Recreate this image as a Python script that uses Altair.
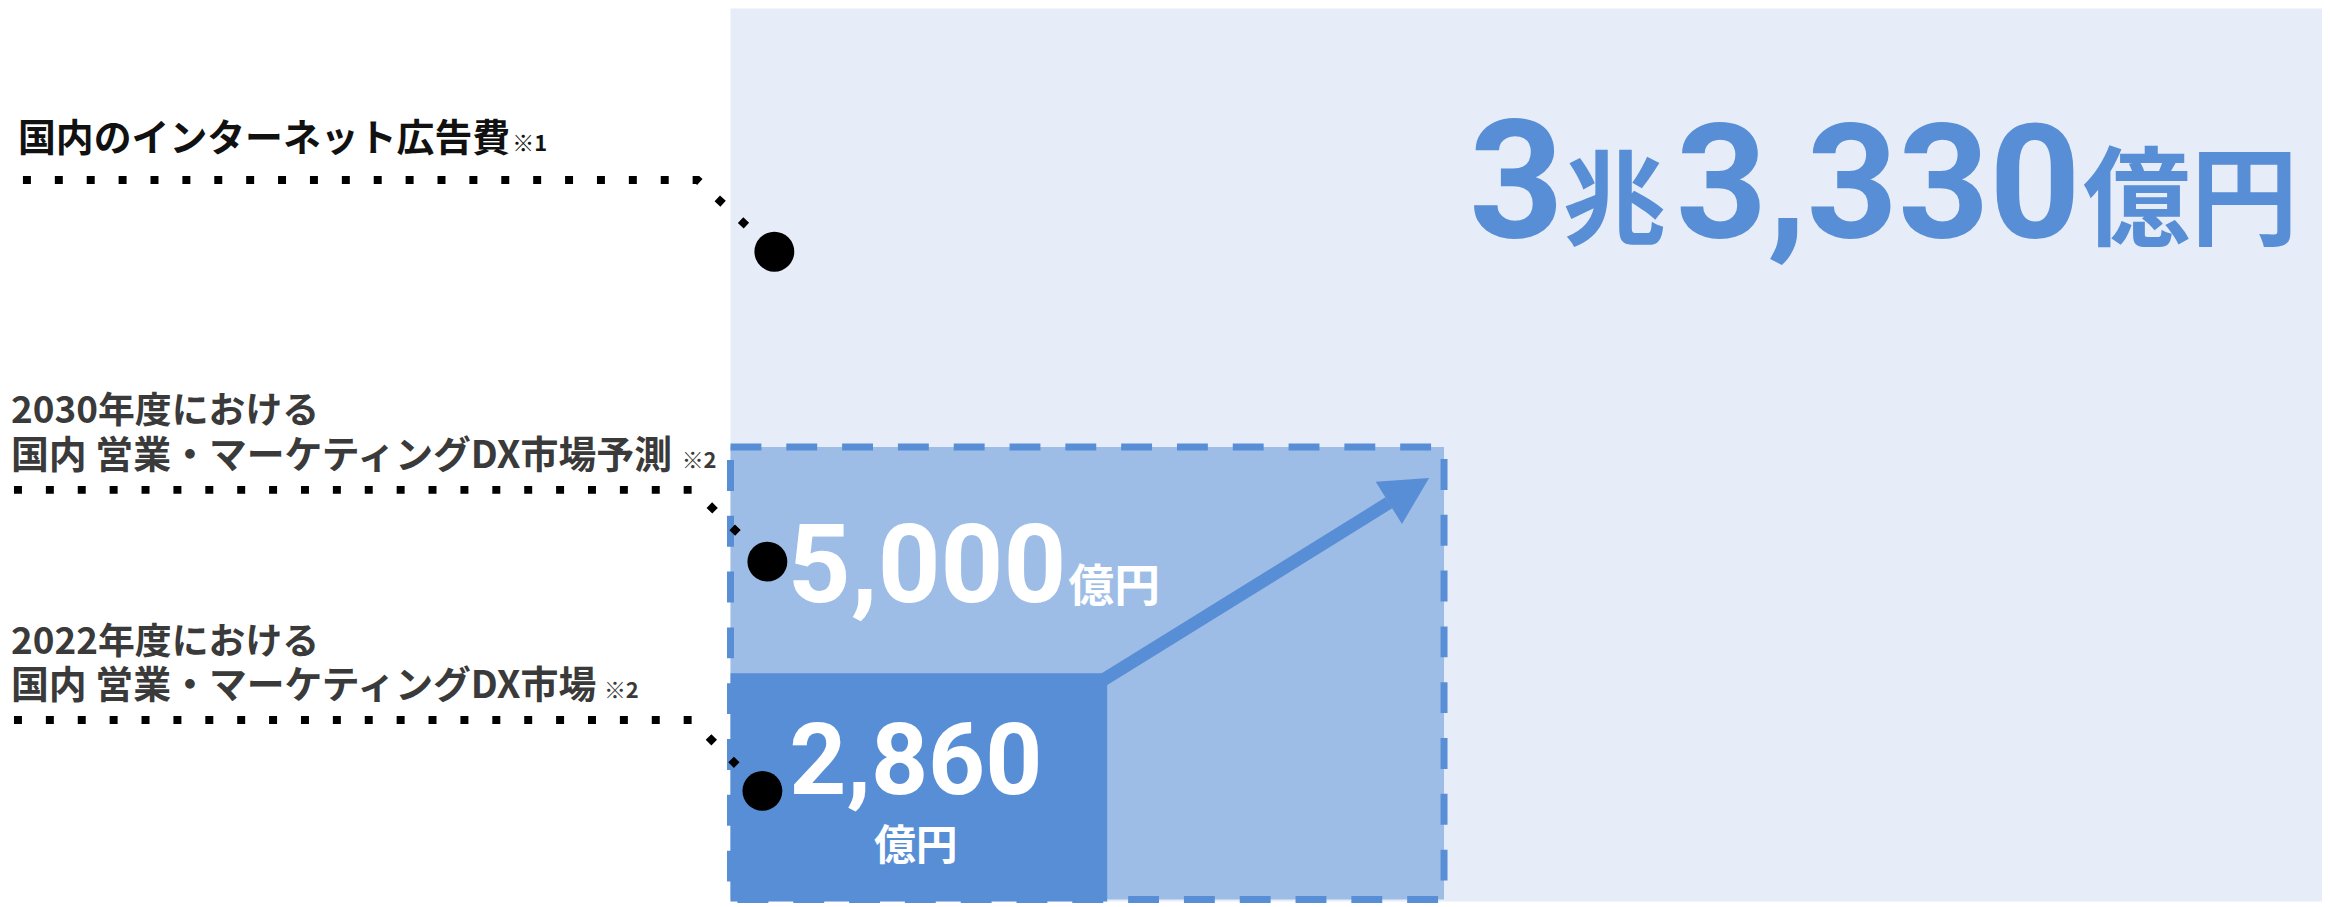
import altair as alt
import pandas as pd
import numpy as np

# ---------------- data ----------------
label_line1 = ["国内のインターネット広告費", "2030年度における", "2022年度における"]
label_line2 = ["", "国内 営業・マーケティングDX市場予測", "国内 営業・マーケティングDX市場"]
label_note = ["※1", "※2", "※2"]
values_oku = [33330, 5000, 2860]          # 億円
unit = "億円"

# ---------------- layout (reference pixel space) ----------------
box_x0 = [733, 733, 733]
box_x1 = [2330, 1449, 1111]
box_y0 = [7, 447, 674]
box_y1 = [903, 901, 903]
box_color = ["#E6EDF8", "#9EBDE6", "#588ED5"]

leader_x0 = [23, 14, 14]
leader_y = [179, 490, 721]
leader_xc = [700, 696, 694]
dot_x = [777, 770, 765]
dot_y = [251, 562, 792]

arrow_start = (1100, 685)
arrow_tip = (1434, 478)

W, H = 2322, 899
XS = alt.Scale(domain=[8, 8 + W], nice=False, zero=False)
YS = alt.Scale(domain=[8, 8 + H], nice=False, zero=False, reverse=True)
BLUE = box_color[2]
FONT = "Noto Sans CJK JP"
NUMFONT = "Roboto"


def enc(**kw):
    out = {}
    for ch, f in kw.items():
        if ch in ("x", "x2"):
            out[ch] = alt.X(f + ":Q", scale=XS, axis=None) if ch == "x" else alt.X2(f)
        elif ch in ("y", "y2"):
            out[ch] = alt.Y(f + ":Q", scale=YS, axis=None) if ch == "y" else alt.Y2(f)
        else:
            out[ch] = f
    return out


layers = []

# background boxes
boxes = pd.DataFrame({"x0": box_x0, "x1": box_x1, "y0": box_y0, "y1": box_y1,
                      "v": values_oku, "c": box_color})
for i in range(2):
    layers.append(alt.Chart(boxes.iloc[[i]]).mark_rect(color=box_color[i]).encode(
        **enc(x="x0", x2="x1", y="y0", y2="y1")))

# dashed outline of the forecast box
layers.append(alt.Chart(boxes.iloc[[1]]).mark_rect(
    fillOpacity=0, stroke=BLUE, strokeWidth=7, strokeDash=[31, 25]).encode(
    **enc(x="x0", x2="x1", y="y0", y2="y1")))

# arrow shaft
sx, sy = arrow_start
tx, ty = arrow_tip
d = np.array([tx - sx, ty - sy], float)
u = d / np.hypot(*d)
head_len = 47.5
s = 25.0
base = np.array([tx, ty]) - head_len * u
hc = np.array([tx, ty]) - s * u
ang = (np.degrees(np.arctan2(u[1], u[0])) + 360) % 360

shaft = pd.DataFrame({"x": [sx], "y": [sy], "x2": [base[0]], "y2": [base[1]]})
layers.append(alt.Chart(shaft).mark_rule(color=BLUE, strokeWidth=13, strokeCap="butt").encode(
    **enc(x="x", y="y", x2="x2", y2="y2")))

# current market box (drawn over the outline)
layers.append(alt.Chart(boxes.iloc[[2]]).mark_rect(color=box_color[2]).encode(
    **enc(x="x0", x2="x1", y="y0", y2="y1")))

head = pd.DataFrame({"x": [hc[0]], "y": [hc[1]]})
layers.append(alt.Chart(head).mark_point(
    shape="M1,0L-0.9,-1L-0.9,1Z", filled=True, opacity=1, color=BLUE,
    size=(2 * s) ** 2, angle=float(ang), strokeWidth=0).encode(**enc(x="x", y="y")))

# leader lines (dotted)
rows = []
for i in range(3):
    pts = [(leader_x0[i], leader_y[i]), (leader_xc[i], leader_y[i]), (dot_x[i], dot_y[i])]
    for k, (px, py) in enumerate(pts):
        rows.append({"id": i, "o": k, "x": px, "y": py})
lead = pd.DataFrame(rows)
layers.append(alt.Chart(lead).mark_line(
    color="black", strokeWidth=8, strokeDash=[8, 24], strokeCap="butt", strokeJoin="miter").encode(
    **enc(x="x", y="y"), detail="id:N", order="o:Q"))

dots = pd.DataFrame({"x": dot_x, "y": dot_y})
layers.append(alt.Chart(dots).mark_point(
    shape="circle", filled=True, opacity=1, color="black", size=40 * 40).encode(**enc(x="x", y="y")))


def text_layer(xs, ys, texts, size, color, align="left", weight="bold", font=FONT):
    df = pd.DataFrame({"x": xs, "y": ys, "t": texts})
    return alt.Chart(df).mark_text(align=align, baseline="alphabetic", fontSize=size, color=color,
                                   fontWeight=weight, font=font).encode(**enc(x="x", y="y"), text="t:N")


# category labels
layers.append(text_layer([18], [150], [label_line1[0]], 38, "#111111"))
layers.append(text_layer([514], [150], [label_note[0]], 22, "#111111"))
layers.append(text_layer([11, 11], [423, 655], label_line1[1:], 37, "#3a3a3a"))
layers.append(text_layer([11, 11], [468, 699], label_line2[1:], 38, "#3a3a3a"))
layers.append(text_layer([684, 606], [468, 699], label_note[1:], 22, "#3a3a3a"))

# value labels
v0, v1, v2 = values_oku
cho, rest = divmod(v0, 10000)
layers.append(text_layer([1474], [236], [str(cho)], 166, BLUE, font=NUMFONT))
layers.append(text_layer([1568], [236], ["兆"], 104, BLUE))
layers.append(text_layer([2088], [236], [f"{rest:,}"], 160, BLUE, align="right", font=NUMFONT))
layers.append(text_layer([2090], [236], [unit], 108, BLUE))

layers.append(text_layer([1070], [603], [f"{v1:,}"], 110, "white", align="right", font=NUMFONT))
layers.append(text_layer([1072], [603], [unit], 46, "white"))
layers.append(text_layer([919], [795], [f"{v2:,}"], 100, "white", align="center", font=NUMFONT))
layers.append(text_layer([919], [861], [unit], 42, "white", align="center"))

chart = alt.layer(*layers).properties(
    width=W, height=H, padding=0, autosize=alt.AutoSizeParams(type="none"),
    background="white",
).configure_view(stroke=None)

chart.save("out.html", embed_options={"renderer": "svg", "actions": False})
